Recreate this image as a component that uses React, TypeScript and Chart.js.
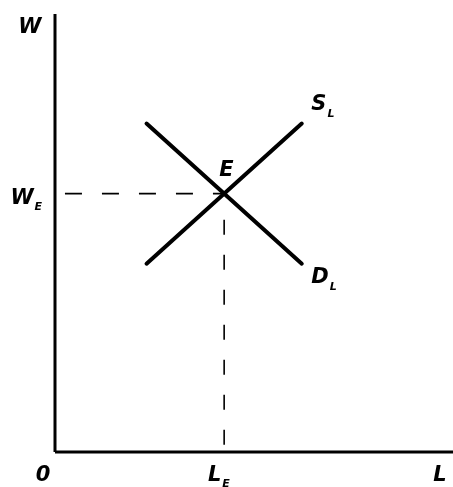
import { useEffect, useRef } from "react";
import { Chart, registerables } from "chart.js";

Chart.register(...registerables);

// Curves (data units 0..100 on both axes)
const supplyX = [23, 62];
const supplyY = [43, 75];
const demandX = [23, 62];
const demandY = [75, 43];

// Equilibrium guides
const wageGuideX = [2.5, 42.5];
const wageGuideY = [59, 59];
const laborGuideX = [42.5, 42.5];
const laborGuideY = [53, 0];

// Axes
const yAxisX = [0, 0];
const yAxisY = [0, 100];
const xAxisX = [0, 100];
const xAxisY = [0, 0];

// Labels (main glyph, subscript, anchor centre in data units)
const labelMain = ["W", "W", "0", "L", "L", "S", "D", "E"];
const labelSub = ["", "E", "", "E", "", "L", "L", ""];
const labelX = [-6.3, -8.3, -3, 40.1, 96.7, 66.3, 66.6, 43.1];
const labelY = [97.4, 58.4, -4.9, -4.9, -4.9, 79.7, 40.2, 64.8];

const pts = (xs: number[], ys: number[]) => xs.map((x, i) => ({ x, y: ys[i] }));

const labelPlugin = {
  id: "econLabels",
  afterDraw(chart: any) {
    const ctx = chart.ctx;
    const sx = chart.scales.x;
    const sy = chart.scales.y;
    ctx.save();
    ctx.fillStyle = "#000";
    ctx.textAlign = "left";
    ctx.textBaseline = "alphabetic";
    labelMain.forEach((t, i) => {
      const cx = sx.getPixelForValue(labelX[i]);
      const cy = sy.getPixelForValue(labelY[i]);
      ctx.font = "bold italic 21px 'DejaVu Sans'";
      const w = ctx.measureText(t).width;
      ctx.fillText(t, cx - w / 2, cy + 7.5);
      if (labelSub[i]) {
        ctx.font = "bold italic 11px 'DejaVu Sans'";
        ctx.fillText(labelSub[i], cx + w / 2 + 1, cy + 14);
      }
    });
    ctx.restore();
  },
};

export default function App() {
  const ref = useRef<HTMLCanvasElement | null>(null);
  useEffect(() => {
    if (!ref.current) return;
    const chart = new Chart(ref.current, {
      type: "scatter",
      data: {
        datasets: [
          {
            data: pts(yAxisX, yAxisY),
            showLine: true,
            borderColor: "#000",
            borderWidth: 3,
            pointRadius: 0,
            clip: false,
          },
          {
            data: pts(xAxisX, xAxisY),
            showLine: true,
            borderColor: "#000",
            borderWidth: 3,
            pointRadius: 0,
            clip: false,
          },
          {
            data: pts(wageGuideX, wageGuideY),
            showLine: true,
            borderColor: "#000",
            borderWidth: 1.6,
            borderDash: [17, 20],
            pointRadius: 0,
            clip: false,
          },
          {
            data: pts(laborGuideX, laborGuideY),
            showLine: true,
            borderColor: "#000",
            borderWidth: 1.6,
            borderDash: [15, 20],
            pointRadius: 0,
            clip: false,
          },
          {
            data: pts(supplyX, supplyY),
            showLine: true,
            borderColor: "#000",
            borderWidth: 4,
            borderCapStyle: "round",
            pointRadius: 0,
            clip: false,
          },
          {
            data: pts(demandX, demandY),
            showLine: true,
            borderColor: "#000",
            borderWidth: 4,
            borderCapStyle: "round",
            pointRadius: 0,
            clip: false,
          },
        ],
      },
      options: {
        animation: false,
        responsive: false,
        devicePixelRatio: 1,
        events: [],
        layout: { padding: { left: 55, top: 14, right: 0, bottom: 35 } },
        plugins: { legend: { display: false }, tooltip: { enabled: false } },
        scales: {
          x: { type: "linear", min: 0, max: 100, display: false },
          y: { type: "linear", min: 0, max: 100, display: false },
        },
      },
      plugins: [labelPlugin],
    } as any);
    return () => chart.destroy();
  }, []);
  return (
    <div style={{ position: "absolute", left: 0, top: 0, width: 453, height: 487, background: "#fff" }}>
      <canvas ref={ref} width={453} height={487} style={{ width: 453, height: 487, display: "block" }} />
    </div>
  );
}
